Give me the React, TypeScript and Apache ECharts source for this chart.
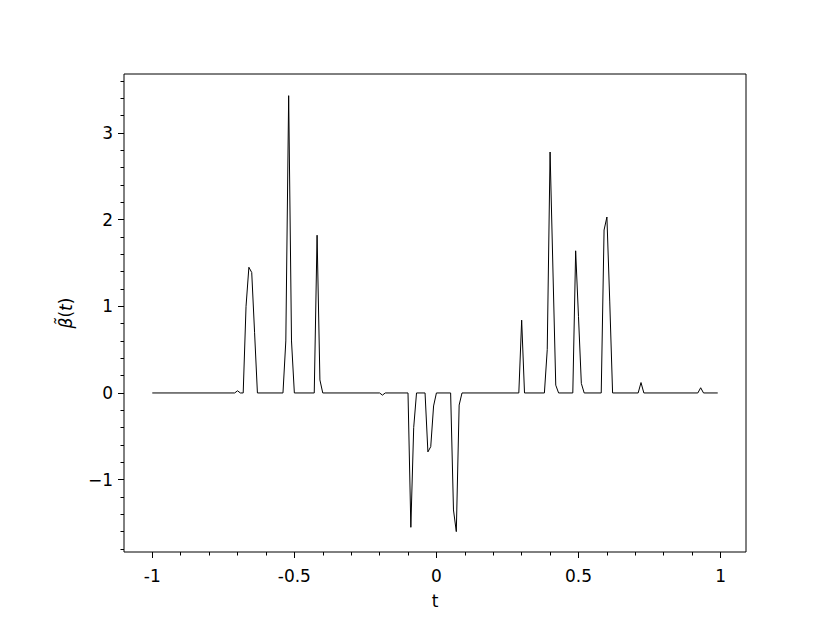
import React, { useEffect, useRef } from "react";
import * as echarts from "echarts";

// Breakpoints of the curve (t, beta~(t)); the line is straight between them
const tValues = [
  -1, -0.71, -0.7, -0.69, -0.68, -0.67, -0.66, -0.65, -0.64, -0.63,
  -0.54, -0.53, -0.52, -0.51, -0.5,
  -0.43, -0.42, -0.41, -0.4,
  -0.2, -0.19, -0.18,
  -0.1, -0.09, -0.08, -0.07,
  -0.04, -0.03, -0.02, -0.01, 0,
  0.05, 0.06, 0.07, 0.08, 0.09,
  0.29, 0.3, 0.31,
  0.38, 0.39, 0.4, 0.41, 0.42, 0.43,
  0.48, 0.49, 0.5, 0.51, 0.52,
  0.58, 0.59, 0.6, 0.61, 0.62,
  0.71, 0.72, 0.73,
  0.92, 0.93, 0.94, 0.99,
];
const betaValues = [
  0, 0, 0.025, 0, 0, 1.0, 1.45, 1.39, 0.7, 0,
  0, 0.6, 3.43, 0.6, 0,
  0, 1.82, 0.15, 0,
  0, -0.025, 0,
  0, -1.55, -0.4, 0,
  0, -0.68, -0.62, -0.15, 0,
  0, -1.35, -1.6, -0.14, 0,
  0, 0.84, 0,
  0, 0.5, 2.78, 1.43, 0.09, 0,
  0, 1.64, 0.88, 0.11, 0,
  0, 1.88, 2.03, 1.05, 0,
  0, 0.12, 0,
  0, 0.06, 0, 0,
];

const xMajorTicks = [-1, -0.5, 0, 0.5, 1];
const xMinorTicks = [-0.9, -0.8, -0.7, -0.6, -0.4, -0.3, -0.2, -0.1, 0.1, 0.2, 0.3, 0.4, 0.6, 0.7, 0.8, 0.9];
const yMajorTicks = [-1, 0, 1, 2, 3];
const yMinorTicks = [-1.8, -1.6, -1.4, -1.2, -0.8, -0.6, -0.4, -0.2, 0.2, 0.4, 0.6, 0.8, 1.2, 1.4, 1.6, 1.8, 2.2, 2.4, 2.6, 2.8, 3.2, 3.4, 3.6];

const X_MIN = -1.0995;
const X_MAX = 1.0895;
const Y_MIN = -1.835;
const Y_MAX = 3.68;

const FONT = "DejaVu Sans";

export default function App() {
  const ref = useRef<HTMLDivElement>(null);
  useEffect(() => {
    document.body.style.margin = "0";
    const chart = echarts.init(ref.current!, null, { renderer: "svg" });
    const data = tValues.map((t, i) => [t, betaValues[i]]);
    const tickCommon = { lineStyle: { color: "#000", width: 1 } };
    chart.setOption({
      animation: false,
      backgroundColor: "#fff",
      grid: {
        left: 124,
        top: 74,
        width: 622,
        height: 478,
        show: true,
        borderColor: "#000",
        borderWidth: 1,
        backgroundColor: "transparent",
      },
      xAxis: [
        {
          type: "value",
          min: X_MIN,
          max: X_MAX,
          position: "bottom",
          axisLine: { show: false, onZero: false },
          splitLine: { show: false },
          axisTick: { show: true, length: 6, customValues: xMajorTicks, ...tickCommon },
          axisLabel: {
            customValues: xMajorTicks,
            formatter: (v: number) => String(v),
            color: "#000",
            fontFamily: FONT,
            fontSize: 17,
            margin: 15,
          },
          name: "t",
          nameLocation: "middle",
          nameGap: 40,
          nameTextStyle: { color: "#000", fontFamily: FONT, fontSize: 17 },
        },
        {
          type: "value",
          min: X_MIN,
          max: X_MAX,
          position: "bottom",
          axisLine: { show: false, onZero: false },
          splitLine: { show: false },
          axisTick: { show: true, length: 3.5, customValues: xMinorTicks, ...tickCommon },
          axisLabel: { show: false },
        },
      ],
      yAxis: [
        {
          type: "value",
          min: Y_MIN,
          max: Y_MAX,
          position: "left",
          axisLine: { show: false, onZero: false },
          splitLine: { show: false },
          axisTick: { show: true, length: 6, customValues: yMajorTicks, ...tickCommon },
          axisLabel: {
            customValues: yMajorTicks,
            formatter: (v: number) => (v < 0 ? "\u2212" + Math.abs(v) : String(v)),
            color: "#000",
            fontFamily: FONT,
            fontSize: 17,
            margin: 11,
          },
          name: "{i|\u03B2\u0303}{r|(}{i|t}{r|)}",
          nameLocation: "middle",
          nameGap: 50,
          nameRotate: 90,
          nameTextStyle: {
            color: "#000",
            fontFamily: FONT,
            fontSize: 17,
            rich: {
              i: { fontFamily: FONT, fontStyle: "italic", fontSize: 17, color: "#000" },
              r: { fontFamily: FONT, fontSize: 17, color: "#000" },
            },
          },
        },
        {
          type: "value",
          min: Y_MIN,
          max: Y_MAX,
          position: "left",
          axisLine: { show: false, onZero: false },
          splitLine: { show: false },
          axisTick: { show: true, length: 3.5, customValues: yMinorTicks, ...tickCommon },
          axisLabel: { show: false },
        },
      ],
      series: [
        {
          type: "line",
          data,
          xAxisIndex: 0,
          yAxisIndex: 0,
          showSymbol: false,
          symbol: "none",
          lineStyle: { color: "#000", width: 1 },
        },
      ],
    });
    return () => chart.dispose();
  }, []);
  return <div ref={ref} style={{ width: 830, height: 623 }} />;
}
